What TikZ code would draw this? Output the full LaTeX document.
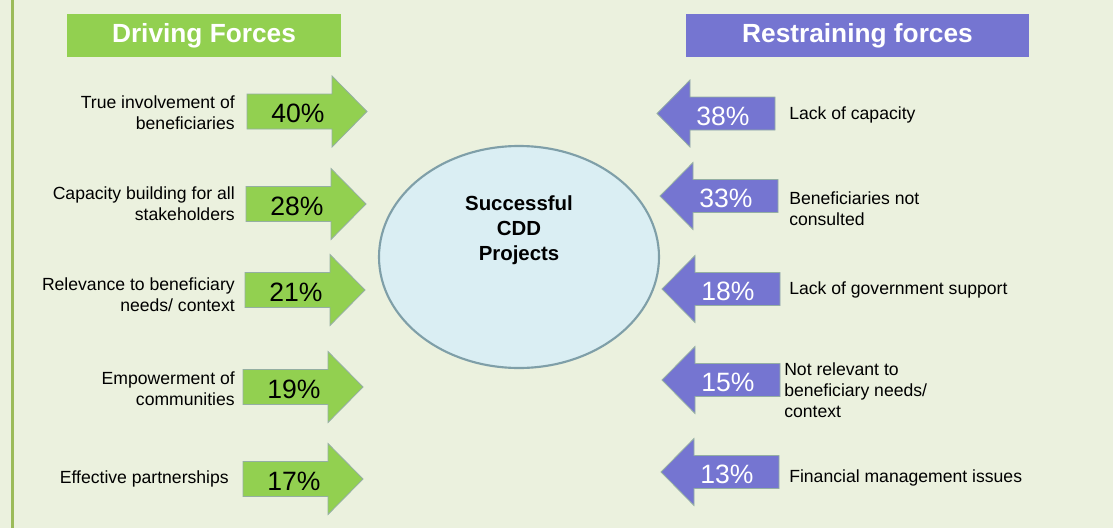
\documentclass[tikz,border=0pt]{standalone}
\usepackage{fontspec}
\usetikzlibrary{shapes.geometric}
\setmainfont{Liberation Sans}
\definecolor{bg}{HTML}{EBF1DE}
\definecolor{gfill}{HTML}{92D050}
\definecolor{pfill}{HTML}{7575D1}
\definecolor{aline}{HTML}{94AFA2}
\definecolor{lborder}{HTML}{9BBB59}
\definecolor{efill}{HTML}{DAEEF3}
\definecolor{eline}{HTML}{7F9FA8}
\begin{document}
\begin{tikzpicture}[x=0.75pt,y=-0.75pt,
  lbl/.style={font=\fontsize{13.2}{15.8}\selectfont, text=black, inner sep=0pt},
  lblL/.style={lbl, align=right, anchor=east},
  lblR/.style={lbl, align=left, anchor=west},
  pct/.style={font=\fontsize{19.9}{22}\selectfont, inner sep=0pt},
  title/.style={font=\fontsize{19.7}{22}\selectfont\bfseries, text=white, inner sep=0pt},
  garrowpath/.style={fill=gfill, draw=aline, line width=0.6pt},
  parrowpath/.style={fill=pfill, draw=aline, line width=0.6pt},
  pics/garrow/.style={code={
    \path[garrowpath] (0,-17.5) -- (85,-17.5) -- (85,-35.5) -- (120,0) -- (85,35.5) -- (85,17.5) -- (0,17.5) -- cycle;}},
  pics/parrow/.style={code={
    \path[parrowpath] (0,0) -- (33,-33.5) -- (33,-16.5) -- (118,-16.5) -- (118,16.5) -- (33,16.5) -- (33,33.5) -- cycle;}}
]
\useasboundingbox (0,0) rectangle (1113,528);
\fill[bg] (0,0) rectangle (1113,528);
\fill[lborder] (11,0) rectangle (14,528);

% titles
\node[fill=gfill, minimum width=205.5pt, minimum height=32.25pt, inner sep=0pt] (tdbox) at (204,35.5) {};
\node[title] (tdrive) at (204,36) {Driving Forces};
\node[fill=pfill, minimum width=257.25pt, minimum height=32.25pt, inner sep=0pt] (trbox) at (857.5,35.5) {};
\node[title] (trestr) at (857.5,36) {Restraining forces};

% ellipse
\node[ellipse, draw=eline, line width=1.6pt, fill=efill, minimum width=210pt, minimum height=166.5pt, inner sep=0pt] (ell) at (519,257) {};
\node[font=\fontsize{15.3}{18.75}\selectfont\bfseries, align=center, inner sep=0pt] (goal) at (519,230) {Successful\\CDD\\Projects};

% driving arrows
\pic at (247,111.5) {garrow};
\pic at (246,204) {garrow};
\pic at (245,290) {garrow};
\pic at (243,387) {garrow};
\pic at (243,479) {garrow};
\node[pct] (g1) at (298,113) {40\%};
\node[pct] (g2) at (297,206) {28\%};
\node[pct] (g3) at (296,292) {21\%};
\node[pct] (g4) at (294,389) {19\%};
\node[pct] (g5) at (294,481) {17\%};

\node[lblL] (d1) at (235,112.5) {True involvement of\\beneficiaries};
\node[lblL] (d2) at (235,203.5) {Capacity building for all\\stakeholders};
\node[lblL] (d3) at (235,294.5) {Relevance to beneficiary\\needs/ context};
\node[lblL] (d4) at (235,388.5) {Empowerment of\\communities};
\node[lblL] (d5) at (229,478.5) {Effective partnerships};

% restraining arrows
\pic at (657,113.5) {parrow};
\pic at (660,196) {parrow};
\pic at (662,289) {parrow};
\pic at (662,380) {parrow};
\pic at (661,472) {parrow};
\node[pct, text=white] (p1) at (723,116) {38\%};
\node[pct, text=white] (p2) at (726,198.5) {33\%};
\node[pct, text=white] (p3) at (728,291.5) {18\%};
\node[pct, text=white] (p4) at (728,382.5) {15\%};
\node[pct, text=white] (p5) at (727,474.5) {13\%};

\node[lblR] (r1) at (789,114.5) {Lack of capacity};
\node[lblR] (r2) at (789,208.5) {Beneficiaries not\\consulted};
\node[lblR] (r3) at (789,289.5) {Lack of government support};
\node[lblR] (r4) at (784,390) {Not relevant to\\beneficiary needs/\\context};
\node[lblR] (r5) at (789,477.5) {Financial management issues};
\end{tikzpicture}
\end{document}
